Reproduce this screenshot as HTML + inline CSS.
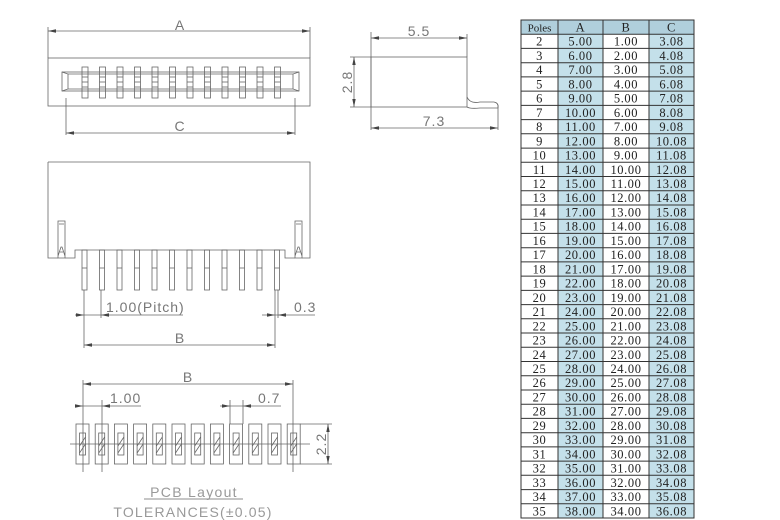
<!DOCTYPE html>
<html><head><style>
body{margin:0;background:#fff;width:780px;height:520px;overflow:hidden}
svg{position:absolute;left:0;top:0}
</style></head><body>
<svg width="780" height="520" viewBox="0 0 780 520" xmlns="http://www.w3.org/2000/svg">
<defs>
<path id="ah" d="M0,0 L-8,-1.7 L-8,1.7Z" fill="#444" stroke="none"/>
</defs>
<g stroke="#666" stroke-width="0.8" fill="none">
<!-- top view -->
<rect x="48" y="58" width="262" height="48"/>
<line x1="48" y1="27" x2="48" y2="58"/><line x1="310" y1="27" x2="310" y2="58"/>
<line x1="48" y1="31" x2="310" y2="31"/>
<rect x="62" y="72" width="237" height="19"/>
<path d="M62,72 L68,74 L68,89 L62,91 M299,72 L293,74 L293,89 L299,91 M68,74 L293,74 M68,89 L293,89"/>
<g id="tp">
<rect x="82" y="67" width="6" height="31"/><line x1="82" y1="77" x2="88" y2="77"/><line x1="82" y1="82" x2="88" y2="82"/><line x1="82" y1="87" x2="88" y2="87"/>
</g>
<use href="#tp" x="17.5"/><use href="#tp" x="35"/><use href="#tp" x="52.5"/><use href="#tp" x="70"/><use href="#tp" x="87.5"/><use href="#tp" x="105"/><use href="#tp" x="122.5"/><use href="#tp" x="140"/><use href="#tp" x="157.5"/><use href="#tp" x="175"/><use href="#tp" x="192.5"/>
<line x1="66" y1="98" x2="66" y2="135"/><line x1="295" y1="98" x2="295" y2="135"/>
<line x1="66" y1="133" x2="295" y2="133"/>
<!-- side small view -->
<rect x="371" y="57" width="96" height="50"/>
<line x1="371" y1="32" x2="371" y2="130"/><line x1="467" y1="34" x2="467" y2="57"/><line x1="498" y1="105" x2="498" y2="130"/>
<line x1="371" y1="38" x2="467" y2="38"/>
<line x1="371" y1="128" x2="498" y2="128"/>
<line x1="350" y1="57" x2="371" y2="57"/><line x1="350" y1="107" x2="371" y2="107"/>
<line x1="354" y1="57" x2="354" y2="107"/>
<path d="M467,97 Q470,104 480,102 L494,102 Q499,103 498,108 L480,108 Q470,109 467,107"/>
<!-- front view -->
<path d="M48,162 L310,162 L310,258 L302,258 M295,258 L285,258 L285,250 L75,250 L75,258 L65,258 M58,258 L48,258 L48,162"/>
<path d="M58,221 L65,221 L65,258 L58,258 Z M59,224 L64,224 M60,252 L63,252 M58,256 L61,247 L62,247 L65,256"/>
<path d="M295,221 L302,221 L302,258 L295,258 Z M296,224 L301,224 M297,252 L300,252 M295,256 L298,247 L299,247 L302,256"/>
<g id="fp"><rect x="82" y="250" width="5" height="40"/><line x1="82" y1="268" x2="87" y2="268"/></g>
<use href="#fp" x="17.5"/><use href="#fp" x="35"/><use href="#fp" x="52.5"/><use href="#fp" x="70"/><use href="#fp" x="87.5"/><use href="#fp" x="105"/><use href="#fp" x="122.5"/><use href="#fp" x="140"/><use href="#fp" x="157.5"/><use href="#fp" x="175"/><use href="#fp" x="192.5"/>
<line x1="84" y1="290" x2="84" y2="348"/><line x1="101" y1="290" x2="101" y2="318"/>
<line x1="275" y1="290" x2="275" y2="348"/><line x1="278" y1="290" x2="278" y2="318"/>
<line x1="75" y1="315" x2="183" y2="315"/>
<line x1="262" y1="315" x2="315" y2="315"/>
<line x1="84" y1="345" x2="275" y2="345"/>
<!-- PCB -->
<line x1="83" y1="380" x2="83" y2="472"/><line x1="293" y1="380" x2="293" y2="472"/>
<line x1="83" y1="384" x2="293" y2="384"/>
<line x1="102" y1="400" x2="102" y2="472"/>
<line x1="76" y1="406" x2="141" y2="406"/>
<line x1="230" y1="400" x2="230" y2="424"/><line x1="243" y1="400" x2="243" y2="424"/>
<line x1="220" y1="406" x2="281" y2="406"/>
<line x1="70" y1="444" x2="310" y2="444"/>
<g id="pd"><rect x="76" y="424" width="13" height="40"/><rect x="79.5" y="433" width="6" height="22"/><path d="M79.5,446 L85.5,437 M79.5,453 L85.5,444"/></g>
<use href="#pd" x="19.2"/><use href="#pd" x="38.4"/><use href="#pd" x="57.6"/><use href="#pd" x="76.8"/><use href="#pd" x="96"/><use href="#pd" x="115.2"/><use href="#pd" x="134.4"/><use href="#pd" x="153.6"/><use href="#pd" x="172.8"/><use href="#pd" x="192"/><use href="#pd" x="211.2"/>
<line x1="300" y1="424" x2="332" y2="424"/><line x1="300" y1="464" x2="332" y2="464"/>
<line x1="328" y1="424" x2="328" y2="464"/>
<line x1="144" y1="499" x2="243" y2="499"/>
</g>
<g>
<use href="#ah" transform="translate(48,31) rotate(180)"/><use href="#ah" transform="translate(310,31)"/>
<use href="#ah" transform="translate(66,133) rotate(180)"/><use href="#ah" transform="translate(295,133)"/>
<use href="#ah" transform="translate(371,38) rotate(180)"/><use href="#ah" transform="translate(467,38)"/>
<use href="#ah" transform="translate(371,128) rotate(180)"/><use href="#ah" transform="translate(498,128)"/>
<use href="#ah" transform="translate(354,57) rotate(-90)"/><use href="#ah" transform="translate(354,107) rotate(90)"/>
<use href="#ah" transform="translate(84,315)"/><use href="#ah" transform="translate(101,315) rotate(180)"/>
<use href="#ah" transform="translate(275,315)"/><use href="#ah" transform="translate(278,315) rotate(180)"/>
<use href="#ah" transform="translate(84,345) rotate(180)"/><use href="#ah" transform="translate(275,345)"/>
<use href="#ah" transform="translate(83,384) rotate(180)"/><use href="#ah" transform="translate(293,384)"/>
<use href="#ah" transform="translate(83,406)"/><use href="#ah" transform="translate(102,406) rotate(180)"/>
<use href="#ah" transform="translate(230,406)"/><use href="#ah" transform="translate(243,406) rotate(180)"/>
<use href="#ah" transform="translate(328,424) rotate(-90)"/><use href="#ah" transform="translate(328,464) rotate(90)"/>
</g>
<g font-family="Liberation Sans, sans-serif" fill="#777" font-size="14" letter-spacing="1">
<text x="180" y="30" text-anchor="middle">A</text>
<text x="180" y="131" text-anchor="middle">C</text>
<text x="419" y="36" text-anchor="middle">5.5</text>
<text x="434" y="126" text-anchor="middle">7.3</text>
<text transform="translate(352,82) rotate(-90)" text-anchor="middle">2.8</text>
<text x="106" y="312">1.00(Pitch)</text>
<text x="294" y="312">0.3</text>
<text x="180" y="343" text-anchor="middle">B</text>
<text x="188" y="382" text-anchor="middle">B</text>
<text x="110" y="403">1.00</text>
<text x="258" y="403">0.7</text>
<text transform="translate(326,444) rotate(-90)" text-anchor="middle">2.2</text>
<text x="194" y="497" text-anchor="middle" fill="#999" letter-spacing="1.3">PCB  Layout</text>
<text x="193" y="517" text-anchor="middle" fill="#999" letter-spacing="1.2">TOLERANCES(±0.05)</text>
</g>
<!-- table -->
<g>
<rect x="521" y="20" width="173" height="498" fill="#fff"/>
<rect x="558" y="20" width="45" height="498" fill="#c4e0ea"/>
<rect x="649" y="20" width="45" height="498" fill="#c4e0ea"/>
<rect x="521" y="20" width="173" height="14.2" fill="#b0cfdc"/>
<g stroke="#333" stroke-width="1">
<rect x="521" y="20" width="173" height="498" fill="none"/>
<line x1="558" y1="20" x2="558" y2="518"/><line x1="603" y1="20" x2="603" y2="518"/><line x1="649" y1="20" x2="649" y2="518"/>
<path d="M521,34.2H694M521,48.4H694M521,62.7H694M521,76.9H694M521,91.1H694M521,105.4H694M521,119.6H694M521,133.8H694M521,148.1H694M521,162.3H694M521,176.5H694M521,190.7H694M521,205H694M521,219.2H694M521,233.4H694M521,247.7H694M521,261.9H694M521,276.1H694M521,290.4H694M521,304.6H694M521,318.8H694M521,333H694M521,347.3H694M521,361.5H694M521,375.7H694M521,390H694M521,404.2H694M521,418.4H694M521,432.7H694M521,446.9H694M521,461.1H694M521,475.3H694M521,489.6H694M521,503.8H694"/>
</g>
<g font-family="Liberation Serif, serif" font-size="12.5" fill="#222" text-anchor="middle" letter-spacing="0.6">
<text x="539.5" y="31.5" font-size="11" letter-spacing="0">Poles</text><text x="580.5" y="31.5">A</text><text x="626" y="31.5">B</text><text x="671.5" y="31.5">C</text>
<text x="539.5" y="45.7">2</text><text x="580.5" y="45.7">5.00</text><text x="626" y="45.7">1.00</text><text x="671.5" y="45.7">3.08</text>
<text x="539.5" y="59.9">3</text><text x="580.5" y="59.9">6.00</text><text x="626" y="59.9">2.00</text><text x="671.5" y="59.9">4.08</text>
<text x="539.5" y="74.2">4</text><text x="580.5" y="74.2">7.00</text><text x="626" y="74.2">3.00</text><text x="671.5" y="74.2">5.08</text>
<text x="539.5" y="88.4">5</text><text x="580.5" y="88.4">8.00</text><text x="626" y="88.4">4.00</text><text x="671.5" y="88.4">6.08</text>
<text x="539.5" y="102.6">6</text><text x="580.5" y="102.6">9.00</text><text x="626" y="102.6">5.00</text><text x="671.5" y="102.6">7.08</text>
<text x="539.5" y="116.9">7</text><text x="580.5" y="116.9">10.00</text><text x="626" y="116.9">6.00</text><text x="671.5" y="116.9">8.08</text>
<text x="539.5" y="131.1">8</text><text x="580.5" y="131.1">11.00</text><text x="626" y="131.1">7.00</text><text x="671.5" y="131.1">9.08</text>
<text x="539.5" y="145.3">9</text><text x="580.5" y="145.3">12.00</text><text x="626" y="145.3">8.00</text><text x="671.5" y="145.3">10.08</text>
<text x="539.5" y="159.6">10</text><text x="580.5" y="159.6">13.00</text><text x="626" y="159.6">9.00</text><text x="671.5" y="159.6">11.08</text>
<text x="539.5" y="173.8">11</text><text x="580.5" y="173.8">14.00</text><text x="626" y="173.8">10.00</text><text x="671.5" y="173.8">12.08</text>
<text x="539.5" y="188">12</text><text x="580.5" y="188">15.00</text><text x="626" y="188">11.00</text><text x="671.5" y="188">13.08</text>
<text x="539.5" y="202.2">13</text><text x="580.5" y="202.2">16.00</text><text x="626" y="202.2">12.00</text><text x="671.5" y="202.2">14.08</text>
<text x="539.5" y="216.5">14</text><text x="580.5" y="216.5">17.00</text><text x="626" y="216.5">13.00</text><text x="671.5" y="216.5">15.08</text>
<text x="539.5" y="230.7">15</text><text x="580.5" y="230.7">18.00</text><text x="626" y="230.7">14.00</text><text x="671.5" y="230.7">16.08</text>
<text x="539.5" y="244.9">16</text><text x="580.5" y="244.9">19.00</text><text x="626" y="244.9">15.00</text><text x="671.5" y="244.9">17.08</text>
<text x="539.5" y="259.2">17</text><text x="580.5" y="259.2">20.00</text><text x="626" y="259.2">16.00</text><text x="671.5" y="259.2">18.08</text>
<text x="539.5" y="273.4">18</text><text x="580.5" y="273.4">21.00</text><text x="626" y="273.4">17.00</text><text x="671.5" y="273.4">19.08</text>
<text x="539.5" y="287.6">19</text><text x="580.5" y="287.6">22.00</text><text x="626" y="287.6">18.00</text><text x="671.5" y="287.6">20.08</text>
<text x="539.5" y="301.9">20</text><text x="580.5" y="301.9">23.00</text><text x="626" y="301.9">19.00</text><text x="671.5" y="301.9">21.08</text>
<text x="539.5" y="316.1">21</text><text x="580.5" y="316.1">24.00</text><text x="626" y="316.1">20.00</text><text x="671.5" y="316.1">22.08</text>
<text x="539.5" y="330.3">22</text><text x="580.5" y="330.3">25.00</text><text x="626" y="330.3">21.00</text><text x="671.5" y="330.3">23.08</text>
<text x="539.5" y="344.5">23</text><text x="580.5" y="344.5">26.00</text><text x="626" y="344.5">22.00</text><text x="671.5" y="344.5">24.08</text>
<text x="539.5" y="358.8">24</text><text x="580.5" y="358.8">27.00</text><text x="626" y="358.8">23.00</text><text x="671.5" y="358.8">25.08</text>
<text x="539.5" y="373">25</text><text x="580.5" y="373">28.00</text><text x="626" y="373">24.00</text><text x="671.5" y="373">26.08</text>
<text x="539.5" y="387.2">26</text><text x="580.5" y="387.2">29.00</text><text x="626" y="387.2">25.00</text><text x="671.5" y="387.2">27.08</text>
<text x="539.5" y="401.5">27</text><text x="580.5" y="401.5">30.00</text><text x="626" y="401.5">26.00</text><text x="671.5" y="401.5">28.08</text>
<text x="539.5" y="415.7">28</text><text x="580.5" y="415.7">31.00</text><text x="626" y="415.7">27.00</text><text x="671.5" y="415.7">29.08</text>
<text x="539.5" y="429.9">29</text><text x="580.5" y="429.9">32.00</text><text x="626" y="429.9">28.00</text><text x="671.5" y="429.9">30.08</text>
<text x="539.5" y="444.2">30</text><text x="580.5" y="444.2">33.00</text><text x="626" y="444.2">29.00</text><text x="671.5" y="444.2">31.08</text>
<text x="539.5" y="458.4">31</text><text x="580.5" y="458.4">34.00</text><text x="626" y="458.4">30.00</text><text x="671.5" y="458.4">32.08</text>
<text x="539.5" y="472.6">32</text><text x="580.5" y="472.6">35.00</text><text x="626" y="472.6">31.00</text><text x="671.5" y="472.6">33.08</text>
<text x="539.5" y="486.8">33</text><text x="580.5" y="486.8">36.00</text><text x="626" y="486.8">32.00</text><text x="671.5" y="486.8">34.08</text>
<text x="539.5" y="501.1">34</text><text x="580.5" y="501.1">37.00</text><text x="626" y="501.1">33.00</text><text x="671.5" y="501.1">35.08</text>
<text x="539.5" y="515.3">35</text><text x="580.5" y="515.3">38.00</text><text x="626" y="515.3">34.00</text><text x="671.5" y="515.3">36.08</text>
</g>
</g>
</svg>
</body></html>
